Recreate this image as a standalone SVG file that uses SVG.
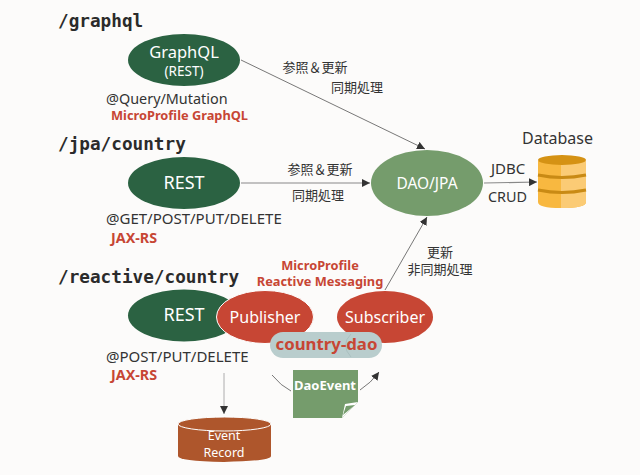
<svg xmlns="http://www.w3.org/2000/svg" width="640" height="475" viewBox="0 0 640 475">
<style>
text{font-family:"Noto Sans","Noto Sans CJK JP",sans-serif}
.path{font-family:"DejaVu Sans Mono",monospace;font-weight:700;font-size:17.7px;fill:#2b2b2b}
.w{fill:#fff;text-anchor:middle}
.d{fill:#333;font-size:14.4px}
.j{fill:#333;font-size:13px;font-family:"Noto Sans CJK JP",sans-serif;text-anchor:middle}
.r{fill:#c74634;font-size:12.800px;font-weight:700}
.c{stroke:#555;stroke-width:.8;fill:none}
.g{stroke:#888;stroke-width:1.2;fill:none}
</style>
<defs><marker id="a" markerWidth="9" markerHeight="8" refX="8" refY="4" orient="auto" markerUnits="userSpaceOnUse"><path d="M0 0L8 4L0 8Z" fill="#333"/></marker></defs>
<rect width="640" height="475" fill="#fcfbfa"/>
<text class="path" x="58" y="27">/graphql</text>
<text class="path" x="58" y="150">/jpa/country</text>
<text class="path" x="58" y="283">/reactive/country</text>
<g id="connectors">
<path class="c" d="M241 60L425 149" marker-end="url(#a)"/>
<path class="g" d="M241 183L370 183" marker-end="url(#a)"/>
<path class="g" d="M484 183L537 182" marker-end="url(#a)"/>
<path class="c" d="M385 290L427 217" marker-end="url(#a)"/>
<path d="M224 373L224 414" stroke="#999" stroke-width=".8" fill="none" marker-end="url(#a)"/>
<path class="c" d="M272 375Q281 386 291 391"/>
<path class="c" d="M360 390Q371 383 379 372" marker-end="url(#a)"/>
</g>
<g id="graphql"><ellipse cx="184" cy="60" rx="56" ry="26" fill="#2b6242"/><text class="w" x="184" y="57.500" font-size="16.500">GraphQL</text><text class="w" x="184" y="75.500" font-size="13.500">(REST)</text></g>
<text class="d" x="106" y="104">@Query/Mutation</text>
<text class="r" x="111" y="120">MicroProfile GraphQL</text>
<g id="rest-jpa"><ellipse cx="184" cy="183" rx="56" ry="26" fill="#2b6242"/><text class="w" x="184" y="189" font-size="18">REST</text></g>
<text class="d" x="106" y="224" style="font-size:15px">@GET/POST/PUT/DELETE</text>
<text class="r" x="111" y="243" style="font-size:14.300px">JAX-RS</text>
<g id="dao-jpa"><ellipse cx="427" cy="183" rx="56" ry="33" fill="#759c6c"/><text class="w" x="427" y="189" font-size="15.500">DAO/JPA</text></g>
<text class="j" x="315" y="72">参照＆更新</text>
<text class="j" x="357" y="92">同期処理</text>
<text class="j" x="320" y="174">参照＆更新</text>
<text class="j" x="318" y="200">同期処理</text>
<text class="d" x="491" y="174" style="font-size:15px">JDBC</text>
<text class="d" x="488" y="202">CRUD</text>
<text class="j" x="440" y="256.500">更新</text>
<text class="j" x="440" y="274">非同期処理</text>
<g id="database">
<text x="522" y="144" font-size="16" fill="#333">Database</text>
<path d="M538 161V202Q538 208 561 208Q586 208 586 202V161Z" fill="#f8b840"/>
<path d="M561 161H586V202Q586 208 561 208Z" fill="#fbcb75"/>
<ellipse cx="562" cy="160" rx="24" ry="5" fill="#d59214"/>
<path d="M538 175Q562 180 586 175M538 190Q562 195 586 190" stroke="#c98a14" stroke-width="3" fill="none"/>
</g>
<text class="r" x="320" y="270" text-anchor="middle">MicroProfile</text>
<text class="r" x="320" y="286" text-anchor="middle">Reactive Messaging</text>
<g id="rest-reactive"><ellipse cx="184" cy="315.500" rx="56" ry="26" fill="#2b6242"/><text class="w" x="184" y="321" font-size="18">REST</text></g>
<g id="publisher"><ellipse cx="265" cy="317" rx="48.500" ry="26.500" fill="#c74634" stroke="#fff" stroke-width="1"/><text class="w" x="265" y="323" font-size="16">Publisher</text></g>
<g id="subscriber"><ellipse cx="385" cy="317" rx="48" ry="26" fill="#c74634"/><text class="w" x="385" y="323" font-size="16">Subscriber</text></g>
<g id="country-dao"><rect x="270" y="332" width="112" height="26" rx="13" fill="#b9cdcd"/><path d="M351 334Q340 345 351 357" stroke="#a6bcbc" stroke-width=".8" fill="none"/><text x="326.500" y="350" font-size="16.800" font-weight="700" fill="#c74634" text-anchor="middle">country-dao</text></g>
<text class="d" x="106" y="362" style="font-size:15px">@POST/PUT/DELETE</text>
<text class="r" x="111" y="380" style="font-size:14.300px">JAX-RS</text>
<g id="dao-event"><path d="M293 370H358V402L342 418H293Z" fill="#759c6c"/><path d="M358 402L345 404L342 418Z" fill="#fff"/><path d="M355 405L346 406L343 415Z" fill="#759c6c"/><text x="325" y="390" font-size="13" font-weight="700" fill="#fff" text-anchor="middle">DaoEvent</text></g>
<g id="event-record"><path d="M178 424V456Q178 461 224 462Q271 461 271 456V424Z" fill="#ae562c"/><ellipse cx="224.500" cy="424" rx="46.500" ry="7" fill="#ae562c" stroke="#fff" stroke-width="1"/><text class="w" x="224" y="439.500" font-size="12.500">Event</text><text class="w" x="224" y="457" font-size="12.500">Record</text></g>
</svg>
